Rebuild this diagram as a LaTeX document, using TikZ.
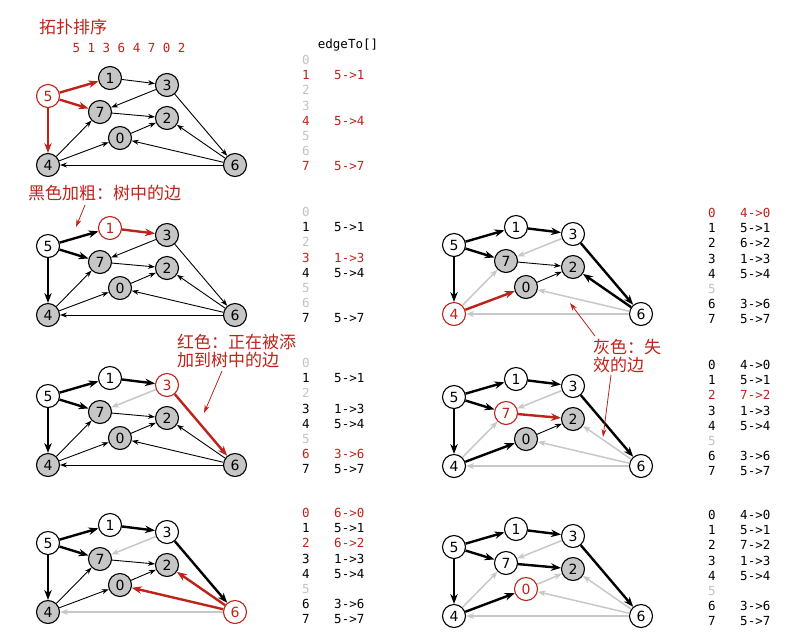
\documentclass[tikz,border=0pt]{standalone}
\usepackage{fontspec}
\usetikzlibrary{arrows.meta}
\newfontfamily\cjkf{Noto Sans CJK SC}
\newfontfamily\ndfam{DejaVu Sans}
\newfontfamily\tbfam{DejaVu Sans Mono}
\definecolor{rd}{RGB}{190,35,25}
\definecolor{ndgray}{RGB}{198,198,198}
\definecolor{egray}{RGB}{200,200,200}
\definecolor{tgray}{RGB}{195,195,195}
\newcommand{\tgy}{\color{tgray}}
\newcommand{\trd}{\color{rd}}
\newcommand{\tbfont}{\tbfam\fontsize{12.5}{15.1}\selectfont}
\newcommand{\ndfont}{\ndfam\fontsize{14}{14}\selectfont}
\newcommand{\cjkfont}{\cjkf\fontsize{17}{19}\selectfont}
\tikzset{
  nd/.style={circle, draw=black, line width=1.1pt, minimum size=23pt, inner sep=0pt, font=\ndfont},
  unv/.style={fill=ndgray},
  vis/.style={fill=white},
  cur/.style={fill=white, draw=rd, text=rd},
  thinE/.style={-{Stealth[length=7pt,width=5pt]}, line width=0.9pt, black},
  treeE/.style={-{Stealth[length=10pt,width=7.5pt]}, line width=2.4pt, black},
  redE/.style={-{Stealth[length=10pt,width=7.5pt]}, line width=2.4pt, rd},
  grayE/.style={-{Stealth[length=8pt,width=6pt]}, line width=1.5pt, egray},
  annot/.style={-{Stealth[length=8pt,width=5pt]}, line width=0.8pt, rd},
  cjklab/.style={font=\cjkfont, text=rd, inner sep=0pt},
  tbl/.style={font=\tbfont, inner sep=0pt, anchor=north west},
  s0/.style={unv}, s1/.style={unv}, s2/.style={unv}, s3/.style={unv},
  s4/.style={unv}, s5/.style={unv}, s6/.style={unv}, s7/.style={unv},
  e51/.style={thinE}, e57/.style={thinE}, e54/.style={thinE}, e13/.style={thinE},
  e37/.style={thinE}, e36/.style={thinE}, e72/.style={thinE}, e47/.style={thinE},
  e40/.style={thinE}, e02/.style={thinE}, e62/.style={thinE}, e60/.style={thinE},
  e64/.style={thinE}
}
\newcommand{\dagpanel}{%
  \node[nd,s5] (n5) at (48,96) {5};
  \node[nd,s1] (n1) at (110,78) {1};
  \node[nd,s3] (n3) at (167,85) {3};
  \node[nd,s7] (n7) at (100,112) {7};
  \node[nd,s2] (n2) at (167,118) {2};
  \node[nd,s0] (n0) at (120,138) {0};
  \node[nd,s4] (n4) at (48,165) {4};
  \node[nd,s6] (n6) at (235,165) {6};
  \draw[e64] (n6) -- (n4);
  \draw[e60] (n6) -- (n0);
  \draw[e62] (n6) -- (n2);
  \draw[e02] (n0) -- (n2);
  \draw[e40] (n4) -- (n0);
  \draw[e47] (n4) -- (n7);
  \draw[e72] (n7) -- (n2);
  \draw[e37] (n3) -- (n7);
  \draw[e36] (n3) -- (n6);
  \draw[e13] (n1) -- (n3);
  \draw[e54] (n5) -- (n4);
  \draw[e57] (n5) -- (n7);
  \draw[e51] (n5) -- (n1);
}
\begin{document}
\begin{tikzpicture}[x=1pt,y=-1pt]
\useasboundingbox (0,0) rectangle (797,633);
\fill[white] (0,0) rectangle (797,633);

% title and header
\node[cjklab, anchor=west] (title) at (39,27) {拓扑排序};
\node[font=\tbfont, text=rd, inner sep=0pt] (order) at (129,48) {5 1 3 6 4 7 0 2};
\node[font=\tbfont, inner sep=0pt] (hdr) at (348,45) {edgeTo[]};

% panel L1
\begin{scope}[name prefix=L1-, s5/.style={cur},
  e51/.style={redE}, e57/.style={redE}, e54/.style={redE}]
  \dagpanel
\end{scope}
\node[tbl] (tL1) at (302,54) {\begin{tabular}{@{}l@{\hspace{24.5pt}}l@{}}
\tgy 0 & \\ \trd 1 & \trd 5->1 \\ \tgy 2 & \\ \tgy 3 & \\
\trd 4 & \trd 5->4 \\ \tgy 5 & \\ \tgy 6 & \\ \trd 7 & \trd 5->7
\end{tabular}};

% panel L2
\begin{scope}[shift={(0,150)}, name prefix=L2-, s5/.style={vis}, s1/.style={cur},
  e51/.style={treeE}, e57/.style={treeE}, e54/.style={treeE}, e13/.style={redE}]
  \dagpanel
\end{scope}
\node[tbl] (tL2) at (302,206) {\begin{tabular}{@{}l@{\hspace{24.5pt}}l@{}}
\tgy 0 & \\ 1 & 5->1 \\ \tgy 2 & \\ \trd 3 & \trd 1->3 \\
4 & 5->4 \\ \tgy 5 & \\ \tgy 6 & \\ 7 & 5->7
\end{tabular}};

% panel L3
\begin{scope}[shift={(0,300)}, name prefix=L3-, s5/.style={vis}, s1/.style={vis}, s3/.style={cur},
  e51/.style={treeE}, e57/.style={treeE}, e54/.style={treeE}, e13/.style={treeE},
  e36/.style={redE}, e37/.style={grayE}]
  \dagpanel
\end{scope}
\node[tbl] (tL3) at (302,357) {\begin{tabular}{@{}l@{\hspace{24.5pt}}l@{}}
\tgy 0 & \\ 1 & 5->1 \\ \tgy 2 & \\ 3 & 1->3 \\
4 & 5->4 \\ \tgy 5 & \\ \trd 6 & \trd 3->6 \\ 7 & 5->7
\end{tabular}};

% panel L4
\begin{scope}[shift={(0,447)}, name prefix=L4-, s5/.style={vis}, s1/.style={vis}, s3/.style={vis}, s6/.style={cur},
  e51/.style={treeE}, e57/.style={treeE}, e54/.style={treeE}, e13/.style={treeE}, e36/.style={treeE},
  e62/.style={redE}, e60/.style={redE}, e37/.style={grayE}, e64/.style={grayE}]
  \dagpanel
\end{scope}
\node[tbl] (tL4) at (302,507) {\begin{tabular}{@{}l@{\hspace{24.5pt}}l@{}}
\trd 0 & \trd 6->0 \\ 1 & 5->1 \\ \trd 2 & \trd 6->2 \\ 3 & 1->3 \\
4 & 5->4 \\ \tgy 5 & \\ 6 & 3->6 \\ 7 & 5->7
\end{tabular}};

% panel R1
\begin{scope}[shift={(406,149)}, name prefix=R1-, s5/.style={vis}, s1/.style={vis}, s3/.style={vis}, s6/.style={vis}, s4/.style={cur},
  e51/.style={treeE}, e57/.style={treeE}, e54/.style={treeE}, e13/.style={treeE}, e36/.style={treeE}, e62/.style={treeE},
  e40/.style={redE}, e37/.style={grayE}, e47/.style={grayE}, e60/.style={grayE}, e64/.style={grayE}]
  \dagpanel
\end{scope}
\node[tbl] (tR1) at (708,207) {\begin{tabular}{@{}l@{\hspace{24.5pt}}l@{}}
\trd 0 & \trd 4->0 \\ 1 & 5->1 \\ 2 & 6->2 \\ 3 & 1->3 \\
4 & 5->4 \\ \tgy 5 & \\ 6 & 3->6 \\ 7 & 5->7
\end{tabular}};

% panel R2
\begin{scope}[shift={(406,301)}, name prefix=R2-, s5/.style={vis}, s1/.style={vis}, s3/.style={vis}, s6/.style={vis}, s4/.style={vis}, s7/.style={cur},
  e51/.style={treeE}, e57/.style={treeE}, e54/.style={treeE}, e13/.style={treeE}, e36/.style={treeE}, e40/.style={treeE},
  e72/.style={redE}, e37/.style={grayE}, e47/.style={grayE}, e62/.style={grayE}, e60/.style={grayE}, e64/.style={grayE}]
  \dagpanel
\end{scope}
\node[tbl] (tR2) at (708,359) {\begin{tabular}{@{}l@{\hspace{24.5pt}}l@{}}
0 & 4->0 \\ 1 & 5->1 \\ \trd 2 & \trd 7->2 \\ 3 & 1->3 \\
4 & 5->4 \\ \tgy 5 & \\ 6 & 3->6 \\ 7 & 5->7
\end{tabular}};

% panel R3
\begin{scope}[shift={(406,451)}, name prefix=R3-, s5/.style={vis}, s1/.style={vis}, s3/.style={vis}, s6/.style={vis}, s4/.style={vis}, s7/.style={vis}, s0/.style={cur},
  e51/.style={treeE}, e57/.style={treeE}, e54/.style={treeE}, e13/.style={treeE}, e36/.style={treeE}, e40/.style={treeE}, e72/.style={treeE},
  e37/.style={grayE}, e47/.style={grayE}, e62/.style={grayE}, e60/.style={grayE}, e64/.style={grayE}, e02/.style={grayE}]
  \dagpanel
\end{scope}
\node[tbl] (tR3) at (708,509) {\begin{tabular}{@{}l@{\hspace{24.5pt}}l@{}}
0 & 4->0 \\ 1 & 5->1 \\ 2 & 7->2 \\ 3 & 1->3 \\
4 & 5->4 \\ \tgy 5 & \\ 6 & 3->6 \\ 7 & 5->7
\end{tabular}};

% annotations
\node[cjklab, anchor=west] (lab1) at (28,193) {黑色加粗：树中的边};
\coordinate (a1s) at (85,205);
\coordinate (a1e) at (76,227);
\draw[annot] (a1s) -- (a1e);

\node[cjklab, anchor=west] (lab2a) at (177,342) {红色：正在被添};
\node[cjklab, anchor=west] (lab2b) at (177,360) {加到树中的边};
\coordinate (a2s) at (222,371);
\coordinate (a2e) at (204,413);
\draw[annot] (a2s) -- (a2e);

\node[cjklab, anchor=west] (lab3a) at (593,347) {灰色：失};
\node[cjklab, anchor=west] (lab3b) at (593,365) {效的边};
\coordinate (a3s) at (595,336);
\coordinate (a3e) at (570,303);
\draw[annot] (a3s) -- (a3e);
\coordinate (a4s) at (611,375);
\coordinate (a4e) at (603,437);
\draw[annot] (a4s) -- (a4e);
\end{tikzpicture}
\end{document}
